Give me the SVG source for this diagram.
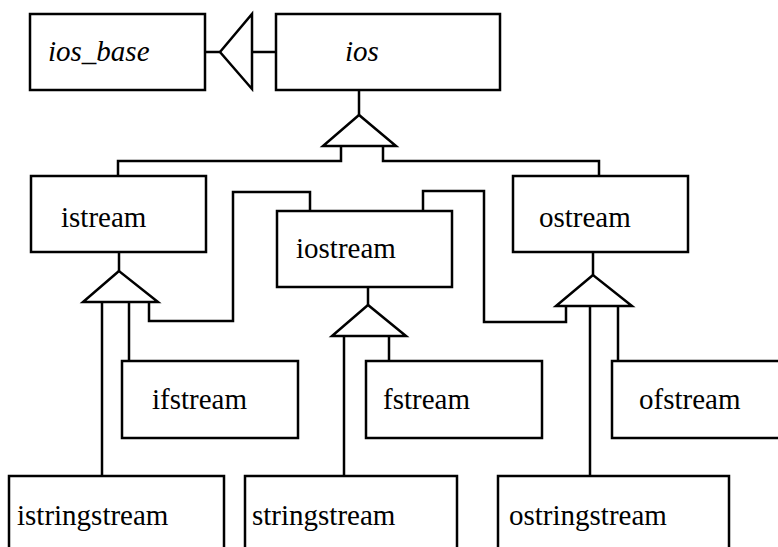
<svg xmlns="http://www.w3.org/2000/svg" width="778" height="547" viewBox="0 0 778 547" font-family="Liberation Serif">
<style>
.box{fill:#fff;stroke:#000;stroke-width:2.5}
.c{fill:none;stroke:#000;stroke-width:2.5;stroke-linejoin:miter}
.tri{fill:#fff;stroke:#000;stroke-width:2.5}
</style>
<rect width="778" height="547" fill="#fff"/>
<g id="connectors">
<path class="c" d="M205,52 H220 M252,52 H276"/>
<polygon class="tri" points="220,52 252,14 252,89"/>
<path class="c" d="M359,90 V115"/>
<path class="c" d="M341,146 V161 H118 V176"/>
<path class="c" d="M383,146 V161 H599 V176"/>
<polygon class="tri" points="359,115 323,146 396,146"/>
<path class="c" d="M119,252 V271"/>
<path class="c" d="M102,302 V476"/>
<path class="c" d="M129,302 V361"/>
<path class="c" d="M149,302 V321 H233 V192 H310 V211"/>
<polygon class="tri" points="119,271 83,302 158,302"/>
<path class="c" d="M368,287 V305"/>
<path class="c" d="M344,336 V476"/>
<path class="c" d="M389,336 V361"/>
<polygon class="tri" points="368,305 332,336 406,336"/>
<path class="c" d="M423,211 V191 H484 V322 H566 V306"/>
<path class="c" d="M593,252 V275"/>
<path class="c" d="M590,306 V476"/>
<path class="c" d="M618,306 V361"/>
<polygon class="tri" points="593,275 556,306 632,306"/>
</g>
<g id="ios_base"><rect class="box" x="30" y="14" width="175" height="76"/><text x="48" y="61" font-size="29" font-style="italic">ios_base</text></g>
<g id="ios"><rect class="box" x="276" y="14" width="224" height="76"/><text x="345" y="61" font-size="29" font-style="italic">ios</text></g>
<g id="istream"><rect class="box" x="31" y="176" width="175" height="76"/><text x="61" y="227" font-size="29">istream</text></g>
<g id="iostream"><rect class="box" x="277" y="211" width="175" height="76"/><text x="296" y="258" font-size="29">iostream</text></g>
<g id="ostream"><rect class="box" x="513" y="176" width="175" height="76"/><text x="539" y="227" font-size="29">ostream</text></g>
<g id="ifstream"><rect class="box" x="122" y="361" width="176" height="77"/><text x="152" y="409" font-size="29">ifstream</text></g>
<g id="fstream"><rect class="box" x="366" y="361" width="176" height="77"/><text x="383" y="409" font-size="29">fstream</text></g>
<g id="ofstream"><rect class="box" x="612" y="361" width="176" height="77"/><text x="639" y="409" font-size="29">ofstream</text></g>
<g id="istringstream"><rect class="box" x="9" y="476" width="215" height="80"/><text x="17" y="525" font-size="29">istringstream</text></g>
<g id="stringstream"><rect class="box" x="245" y="476" width="212" height="80"/><text x="252" y="525" font-size="29">stringstream</text></g>
<g id="ostringstream"><rect class="box" x="498" y="476" width="231" height="80"/><text x="509" y="525" font-size="29">ostringstream</text></g>
</svg>
